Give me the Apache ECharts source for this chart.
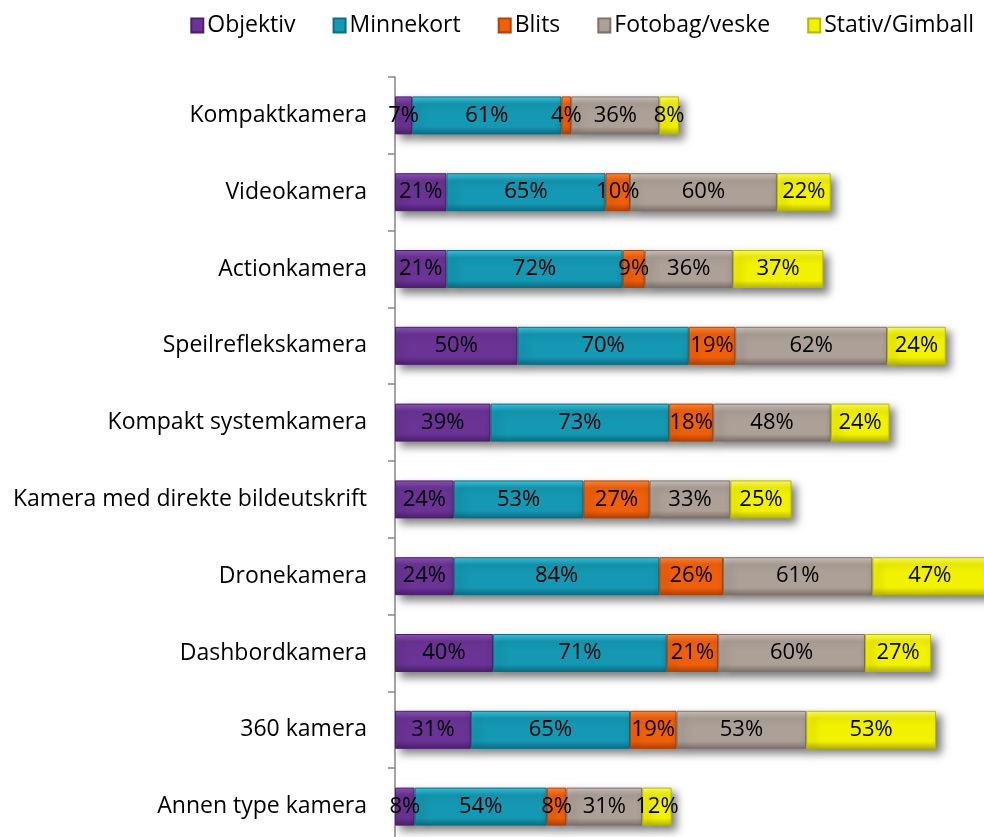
<!DOCTYPE html>
<html>
<head>
<meta charset="utf-8">
<script src="https://cdn.jsdelivr.net/npm/echarts@6/dist/echarts.min.js"></script>
<style>
html, body { margin: 0; padding: 0; background: #fff; }
#chart { width: 984px; height: 837px; }
</style>
</head>
<body>
<div id="chart"></div>
<script>
// kategorier (ovenfra og ned)
var categories = ['Kompaktkamera', 'Videokamera', 'Actionkamera', 'Speilreflekskamera',
  'Kompakt systemkamera', 'Kamera med direkte bildeutskrift', 'Dronekamera',
  'Dashbordkamera', '360 kamera', 'Annen type kamera'];

var objektiv  = [7, 21, 21, 50, 39, 24, 24, 40, 31, 8];
var minnekort = [61, 65, 72, 70, 73, 53, 84, 71, 65, 54];
var blits     = [4, 10, 9, 19, 18, 27, 26, 21, 19, 8];
var fotobag   = [36, 60, 36, 62, 48, 33, 61, 60, 53, 31];
var stativ    = [8, 22, 37, 24, 24, 25, 47, 27, 53, 12];

var seriesNames = ['Objektiv', 'Minnekort', 'Blits', 'Fotobag/veske', 'Stativ/Gimball'];
var seriesData = [objektiv, minnekort, blits, fotobag, stativ];
// [lys, basis, mørk]
var palette = [
  ['#8e55b8', '#6b3396', '#4b1f6e'],
  ['#3fc6e0', '#1598b3', '#0b6e84'],
  ['#ff8a3a', '#f0600c', '#b24204'],
  ['#cfc5bd', '#ada097', '#7d726b'],
  ['#ffff66', '#f2f200', '#b8b800']
];

function bevel(c) {
  return new echarts.graphic.LinearGradient(0, 0, 0, 1, [
    {offset: 0, color: c[0]},
    {offset: 0.2, color: c[1]},
    {offset: 0.8, color: c[1]},
    {offset: 1, color: c[2]}
  ]);
}

var font = 'Open Sans, Noto Sans, sans-serif';

var chart = echarts.init(document.getElementById('chart'));
chart.setOption({
  animation: false,
  backgroundColor: '#fff',
  legend: {
    data: seriesNames,
    top: 9,
    right: 5,
    icon: 'rect',
    itemWidth: 12,
    itemHeight: 14,
    itemGap: 37,
    textStyle: { fontFamily: font, fontSize: 23, color: '#000', padding: [0, 0, 0, -1] }
  },
  grid: {
    left: 395,
    top: 77,
    width: 612,
    height: 768,
    containLabel: false,
    outerBoundsMode: 'none'
  },
  xAxis: {
    type: 'value',
    min: 0,
    max: 250,
    show: false
  },
  yAxis: {
    type: 'category',
    data: categories,
    inverse: true,
    axisLine: { show: true, lineStyle: { color: '#868686', width: 1.5 } },
    axisTick: { show: true, length: 7, lineStyle: { color: '#868686', width: 1.5 } },
    axisLabel: { fontFamily: font, fontSize: 23, color: '#000', margin: 28 },
    splitLine: { show: false }
  },
  series: seriesData.map(function (d, i) {
    return {
      name: seriesNames[i],
      type: 'bar',
      stack: 'total',
      barWidth: 38,
      clip: true,
      data: d,
      itemStyle: {
        color: bevel(palette[i]),
        borderColor: palette[i][2],
        borderWidth: 1,
        shadowColor: 'rgba(0,0,0,0.5)',
        shadowBlur: 8,
        shadowOffsetX: 5,
        shadowOffsetY: 5
      },
      label: {
        show: true,
        position: 'inside',
        formatter: '{c}%',
        fontFamily: font,
        fontSize: 22,
        color: '#000'
      }
    };
  })
});
</script>
</body>
</html>
